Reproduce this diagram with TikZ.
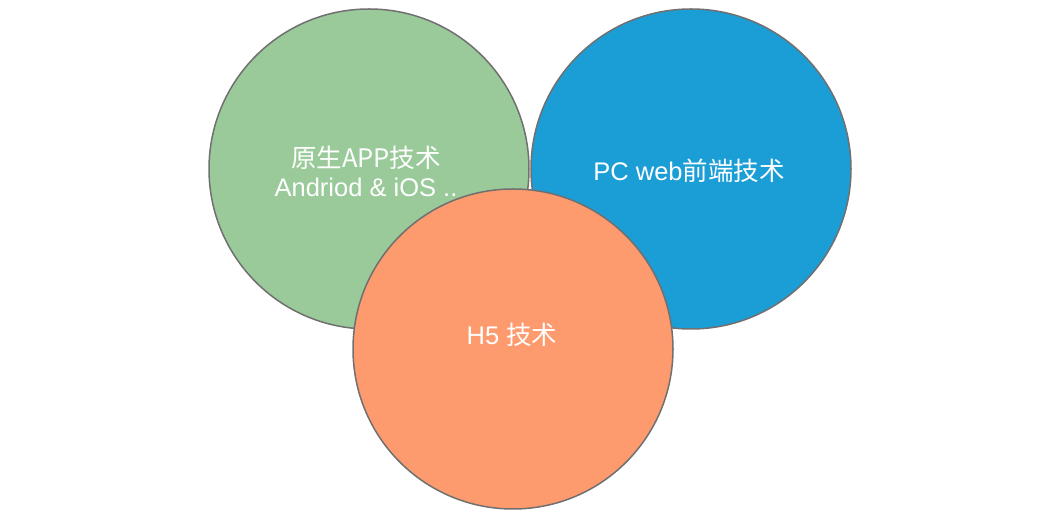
\documentclass[tikz,border=0pt]{standalone}
\usepackage{fontspec}
\setmainfont{Liberation Sans}
\newfontfamily\cjk{Noto Sans CJK SC}
\definecolor{cgreen}{RGB}{154,202,154}
\definecolor{cblue}{RGB}{27,157,214}
\definecolor{corange}{RGB}{253,154,110}
\definecolor{cborder}{RGB}{112,112,112}
\begin{document}
\begin{tikzpicture}[x=1pt,y=1pt,
  bubble/.style={circle,draw=cborder,line width=1.5pt,minimum size=320pt,inner sep=0pt},
  txt/.style={text=white,align=center,font=\fontsize{25.5}{29}\selectfont}]
\useasboundingbox (0,0) rectangle (1042,524);
\node[bubble,fill=cgreen] (g) at (369,355) {};
\node[txt] (gt) at (366,353) {\cjk{原生}APP\cjk{技术}\\Andriod \& iOS ..};
\node[bubble,fill=cblue] (b) at (691,355) {};
\node[txt] (bt) at (689,353) {PC web\cjk{前端技术}};
\node[bubble,fill=corange] (o) at (513,175) {};
\node[txt] (ot) at (512,189) {H5 \cjk{技术}};
\end{tikzpicture}
\end{document}
